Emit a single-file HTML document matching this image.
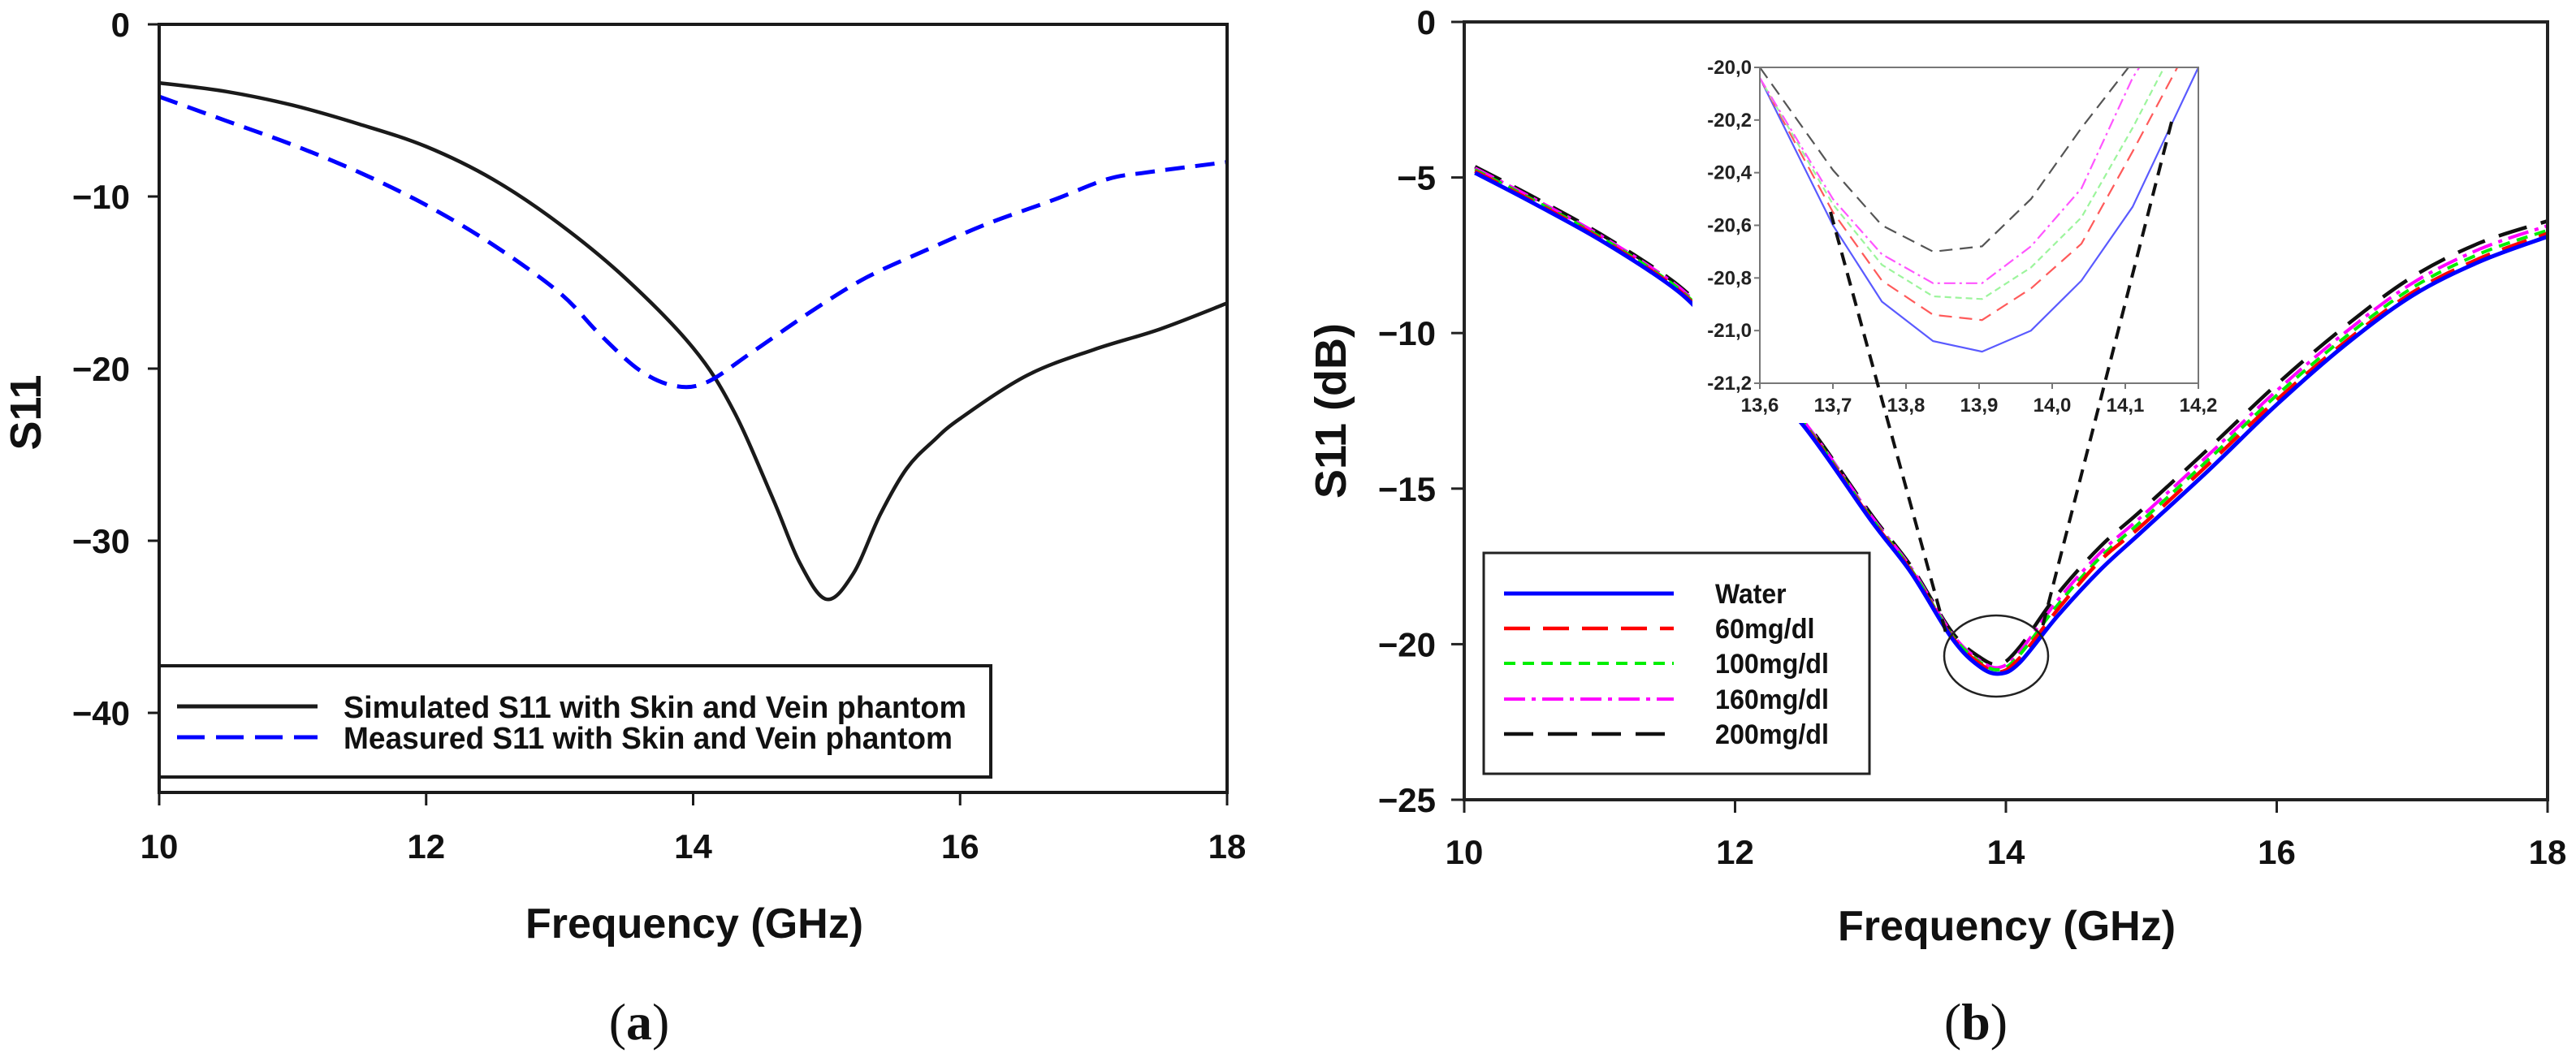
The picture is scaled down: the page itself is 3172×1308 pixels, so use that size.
<!DOCTYPE html>
<html><head><meta charset="utf-8"><style>
html,body{margin:0;padding:0;background:#fff}
svg{display:block}
text{font-family:"Liberation Sans",Arial,sans-serif}
</style></head><body>
<svg id="fig" width="3172" height="1308" viewBox="0 0 3172 1308" xmlns="http://www.w3.org/2000/svg">
<rect x="0" y="0" width="3172" height="1308" fill="#fff"/>
<g id="pa"></g>
<g id="pb"></g>
</svg>
<script>
// ---------- Panel (a) data ----------
const A_XTICKS = [10, 12, 14, 16, 18];
const A_YTICKS = [0, -10, -20, -30, -40];
const A_SIM_F = [10, 10.5, 11, 11.5, 12, 12.5, 13, 13.5, 14, 14.3, 14.6, 14.8, 15, 15.2, 15.4, 15.6, 15.8, 16, 16.5, 17, 17.5, 18];
const A_SIM_V = [-3.4, -3.9, -4.7, -5.8, -7.1, -9.0, -11.6, -14.8, -18.8, -22.4, -27.6, -31.3, -33.4, -31.9, -28.5, -25.8, -24.2, -22.9, -20.4, -18.9, -17.7, -16.2];
const A_MEA_F = [10, 10.5, 11, 11.5, 12, 12.5, 13, 13.3, 13.6, 13.86, 14.1, 14.45, 14.9, 15.3, 15.75, 16.2, 16.7, 17.1, 17.4, 18];
const A_MEA_V = [-4.2, -5.6, -7.0, -8.6, -10.5, -12.8, -15.6, -18.0, -20.1, -21.0, -20.8, -19.0, -16.6, -14.7, -13.1, -11.6, -10.2, -9.0, -8.6, -8.0];

// ---------- Panel (b) data ----------
const B_XTICKS = [10, 12, 14, 16, 18];
const B_YTICKS = [0, -5, -10, -15, -20, -25];
const B_F = [10.08, 10.5, 11, 11.5, 11.75, 12, 12.5, 13, 13.3, 13.6, 13.8, 13.95, 14.1, 14.38, 14.7, 15, 15.5, 16, 16.5, 17, 17.5, 18];
const B_WATER = [-4.85, -5.8, -7.0, -8.4, -9.35, -10.6, -12.95, -16.0, -17.7, -19.8, -20.7, -20.95, -20.6, -19.1, -17.6, -16.4, -14.4, -12.3, -10.4, -8.8, -7.7, -6.9];
const B_60 = [-4.8, -5.75, -6.95, -8.35, -9.3, -10.55, -12.9, -15.95, -17.65, -19.75, -20.6, -20.9, -20.45, -18.9, -17.3, -16.2, -14.2, -12.15, -10.3, -8.7, -7.6, -6.8];
const B_100 = [-4.75, -5.7, -6.9, -8.3, -9.25, -10.5, -12.85, -15.9, -17.6, -19.7, -20.55, -20.82, -20.35, -18.75, -17.2, -16.05, -14.05, -12.0, -10.15, -8.55, -7.45, -6.7];
const B_160 = [-4.7, -5.65, -6.85, -8.25, -9.2, -10.45, -12.8, -15.85, -17.55, -19.65, -20.5, -20.75, -20.25, -18.6, -17.05, -15.9, -13.9, -11.85, -10.0, -8.4, -7.3, -6.55];
const B_200 = [-4.65, -5.6, -6.8, -8.2, -9.15, -10.4, -12.75, -15.8, -17.5, -19.6, -20.4, -20.65, -20.1, -18.4, -16.85, -15.7, -13.7, -11.65, -9.8, -8.2, -7.1, -6.4];

// ---------- Inset data ----------
const IN_XTICKS = [13.6, 13.7, 13.8, 13.9, 14.0, 14.1, 14.2];
const IN_XLABELS = ["13,6", "13,7", "13,8", "13,9", "14,0", "14,1", "14,2"];
const IN_YTICKS = [-20.0, -20.2, -20.4, -20.6, -20.8, -21.0, -21.2];
const IN_YLABELS = ["-20,0", "-20,2", "-20,4", "-20,6", "-20,8", "-21,0", "-21,2"];
const IN_F = [13.6, 13.7, 13.767, 13.837, 13.904, 13.971, 14.04, 14.11, 14.2];
const IN_WATER = [-20.04, -20.6, -20.89, -21.04, -21.08, -21.0, -20.81, -20.53, -20.0];
const IN_60 = [-20.04, -20.55, -20.81, -20.94, -20.96, -20.84, -20.67, -20.32, -19.85];
const IN_100 = [-20.04, -20.52, -20.75, -20.87, -20.88, -20.76, -20.57, -20.23, -19.75];
const IN_160 = [-20.04, -20.5, -20.71, -20.82, -20.82, -20.68, -20.46, -20.04, -19.65];
const IN_200 = [-20.0, -20.39, -20.6, -20.7, -20.68, -20.5, -20.23, -19.98, -19.6];

const NS = "http://www.w3.org/2000/svg";
function mk(parent, tag, attrs) {
  const e = document.createElementNS(NS, tag);
  for (const k in attrs) e.setAttribute(k, attrs[k]);
  parent.appendChild(e);
  return e;
}
function smooth(pts) {
  let d = "M" + pts[0][0].toFixed(1) + "," + pts[0][1].toFixed(1);
  for (let i = 0; i < pts.length - 1; i++) {
    const p0 = pts[Math.max(0, i - 1)], p1 = pts[i], p2 = pts[i + 1], p3 = pts[Math.min(pts.length - 1, i + 2)];
    const c1x = p1[0] + (p2[0] - p0[0]) / 6, c1y = p1[1] + (p2[1] - p0[1]) / 6;
    const c2x = p2[0] - (p3[0] - p1[0]) / 6, c2y = p2[1] - (p3[1] - p1[1]) / 6;
    d += " C" + c1x.toFixed(1) + "," + c1y.toFixed(1) + " " + c2x.toFixed(1) + "," + c2y.toFixed(1) + " " + p2[0].toFixed(1) + "," + p2[1].toFixed(1);
  }
  return d;
}
function poly(pts) { return "M" + pts.map(p => p[0].toFixed(1) + "," + p[1].toFixed(1)).join(" L"); }

// ================= Panel A =================
const pa = document.getElementById("pa");
const AX0 = 196, AX1 = 1511, AY0 = 30, AYB = 976;
const ax = f => AX0 + (f - 10) * (AX1 - AX0) / 8;
const ay = v => AY0 - v * 21.2;

const aSim = mk(pa, "path", {d: smooth(A_SIM_F.map((f, i) => [ax(f), ay(A_SIM_V[i])])), fill: "none", stroke: "#1a1a1a", "stroke-width": 4.5});


const aMea = mk(pa, "path", {d: smooth(A_MEA_F.map((f, i) => [ax(f), ay(A_MEA_V[i])])), fill: "none", stroke: "#0000ff", "stroke-width": 5, "stroke-dasharray": "24 13"});



// legend a
const lgA = mk(pa, "g", {});


mk(lgA, "rect", {x: AX0, y: 820, width: 1024, height: 137, fill: "#fff", stroke: "#1a1a1a", "stroke-width": 4});
mk(lgA, "line", {x1: 218, y1: 870, x2: 391, y2: 870, stroke: "#1a1a1a", "stroke-width": 5});
mk(lgA, "line", {x1: 218, y1: 908, x2: 391, y2: 908, stroke: "#0000ff", "stroke-width": 5, "stroke-dasharray": "34 14"});
const lt1 = mk(lgA, "text", {x: 423, y: 884, "font-size": 38, "font-weight": "bold", textLength: 767, lengthAdjust: "spacingAndGlyphs", fill: "#111"});
lt1.textContent = "Simulated S11 with Skin and Vein phantom";


const lt2 = mk(lgA, "text", {x: 423, y: 922, "font-size": 38, "font-weight": "bold", textLength: 750, lengthAdjust: "spacingAndGlyphs", fill: "#111"});
lt2.textContent = "Measured S11 with Skin and Vein phantom";



// frame a
mk(pa, "rect", {x: AX0, y: AY0, width: AX1 - AX0, height: AYB - AY0, fill: "none", stroke: "#1a1a1a", "stroke-width": 4});
A_XTICKS.forEach(t => {
  mk(pa, "line", {x1: ax(t), y1: AYB, x2: ax(t), y2: AYB + 16, stroke: "#1a1a1a", "stroke-width": 3});
  const tx = mk(pa, "text", {x: ax(t), y: 1057, "font-size": 42, "font-weight": "bold", "text-anchor": "middle", fill: "#111"});
  tx.textContent = t;
  
  
});
A_YTICKS.forEach(t => {
  mk(pa, "line", {x1: AX0 - 14, y1: ay(t), x2: AX0, y2: ay(t), stroke: "#1a1a1a", "stroke-width": 3});
  const ty = mk(pa, "text", {x: 160, y: ay(t) + 15, "font-size": 42, "font-weight": "bold", "text-anchor": "end", fill: "#111"});
  ty.textContent = t === 0 ? "0" : "\u2212" + Math.abs(t);
  
  
});
const axt = mk(pa, "text", {x: 855, y: 1155, "font-size": 52, "font-weight": "bold", "text-anchor": "middle", fill: "#111"});
axt.textContent = "Frequency (GHz)";


const ayt = mk(pa, "text", {x: 0, y: 0, "font-size": 54, "font-weight": "bold", "text-anchor": "middle", fill: "#111", transform: "translate(50,508) rotate(-90)"});
ayt.textContent = "S11";


const capA = mk(pa, "text", {x: 787, y: 1280, "font-size": 64, "text-anchor": "middle", fill: "#111", style: "font-family:'Liberation Serif',serif"});
capA.innerHTML = "(<tspan font-weight='bold'>a</tspan>)";



// ================= Panel B =================
const pb = document.getElementById("pb");
const BX0 = 1803, BX1 = 3137, BY0 = 27, BYB = 985;
const bx = f => BX0 + (f - 10) * (BX1 - BX0) / 8;
const by = v => BY0 - v * 38.32;
const SER = [
  {v: B_WATER, c: "#0000ff", w: 5, d: "none", n: "water-line"},
  {v: B_60, c: "#ff0000", w: 4.5, d: "32 16", n: "60mgdl-line"},
  {v: B_100, c: "#00ee00", w: 4, d: "14 9", n: "100mgdl-line"},
  {v: B_160, c: "#ff00ff", w: 4, d: "26 8 5 8", n: "160mgdl-line"},
  {v: B_200, c: "#111", w: 4.5, d: "36 18", n: "200mgdl-line"}
];
for (let s = SER.length - 1; s >= 0; s--) {
  const S = SER[s];
  const p = mk(pb, "path", {d: smooth(B_F.map((f, i) => [bx(f), by(S.v[i])])), fill: "none", stroke: S.c, "stroke-width": S.w, "stroke-dasharray": S.d});
  
  
}
// zoom circle
const circ = mk(pb, "ellipse", {cx: 2458, cy: 808, rx: 64, ry: 50, fill: "none", stroke: "#222", "stroke-width": 2.5});



// inset background
mk(pb, "rect", {x: 2084, y: 45, width: 660, height: 476, fill: "#fff"});
const IX0 = 2167, IX1 = 2707, IY0 = 83, IY1 = 472;
const ix = f => IX0 + (f - 13.6) * (IX1 - IX0) / 0.6;
const iy = v => IY0 + (-20 - v) * (IY1 - IY0) / 1.2;
mk(pb, "clipPath", {id: "inclip"});
mk(document.getElementById("inclip"), "rect", {x: IX0, y: IY0, width: IX1 - IX0, height: IY1 - IY0});
const INS = [
  {v: IN_WATER, c: "#5a5aff", d: "none", n: "inset-water-line"},
  {v: IN_60, c: "#ff5a5a", d: "16 9", n: "inset-60mgdl-line"},
  {v: IN_100, c: "#9cf59c", d: "8 5", n: "inset-100mgdl-line"},
  {v: IN_160, c: "#ff55ff", d: "14 5 3 5", n: "inset-160mgdl-line"},
  {v: IN_200, c: "#555", d: "16 9", n: "inset-200mgdl-line"}
];
const ing = mk(pb, "g", {"clip-path": "url(#inclip)"});


INS.forEach(S => {
  const p = mk(ing, "path", {d: poly(IN_F.map((f, i) => [ix(f), iy(S.v[i])])), fill: "none", stroke: S.c, "stroke-width": 2.2, "stroke-dasharray": S.d});
  
  
});
mk(pb, "rect", {x: IX0, y: IY0, width: IX1 - IX0, height: IY1 - IY0, fill: "none", stroke: "#777", "stroke-width": 2});
IN_XTICKS.forEach((t, i) => {
  mk(pb, "line", {x1: ix(t), y1: IY1, x2: ix(t), y2: IY1 + 7, stroke: "#777", "stroke-width": 2});
  const tx = mk(pb, "text", {x: ix(t), y: 507, "font-size": 24, "font-weight": "bold", "text-anchor": "middle", fill: "#222"});
  tx.textContent = IN_XLABELS[i];
  
  
});
IN_YTICKS.forEach((t, i) => {
  mk(pb, "line", {x1: IX0 - 7, y1: iy(t), x2: IX0, y2: iy(t), stroke: "#777", "stroke-width": 2});
  const ty = mk(pb, "text", {x: IX0 - 10, y: iy(t) + 8, "font-size": 24, "font-weight": "bold", "text-anchor": "end", fill: "#222"});
  ty.textContent = IN_YLABELS[i];
  
  
});
// connecting dashed lines
const cl1 = mk(pb, "line", {x1: 2254, y1: 261, x2: 2397, y2: 783, stroke: "#111", "stroke-width": 4, "stroke-dasharray": "16 10"});


const cl2 = mk(pb, "line", {x1: 2674, y1: 150, x2: 2513, y2: 780, stroke: "#111", "stroke-width": 4, "stroke-dasharray": "16 10"});



// legend b
const lgB = mk(pb, "g", {});


mk(lgB, "rect", {x: 1827, y: 681, width: 475, height: 272, fill: "#fff", stroke: "#222", "stroke-width": 3});
const LEG_B = ["Water", "60mg/dl", "100mg/dl", "160mg/dl", "200mg/dl"];
const LEG_Y = [731, 774, 817, 861, 904];
LEG_B.forEach((lab, i) => {
  const S = SER[i];
  mk(lgB, "line", {x1: 1852, y1: LEG_Y[i], x2: 2061, y2: LEG_Y[i], stroke: S.c, "stroke-width": S.w, "stroke-dasharray": S.d});
  const t = mk(lgB, "text", {x: 2112, y: LEG_Y[i] + 12, "font-size": 34, "font-weight": "bold", fill: "#111", textLength: lab.length * 17.5, lengthAdjust: "spacingAndGlyphs"});
  t.textContent = lab;
  
  
});

// frame b
mk(pb, "rect", {x: BX0, y: BY0, width: BX1 - BX0, height: BYB - BY0, fill: "none", stroke: "#222", "stroke-width": 4});
B_XTICKS.forEach(t => {
  mk(pb, "line", {x1: bx(t), y1: BYB, x2: bx(t), y2: BYB + 16, stroke: "#222", "stroke-width": 3});
  const tx = mk(pb, "text", {x: bx(t), y: 1064, "font-size": 42, "font-weight": "bold", "text-anchor": "middle", fill: "#111"});
  tx.textContent = t;
  
  
});
B_YTICKS.forEach(t => {
  mk(pb, "line", {x1: BX0 - 16, y1: by(t), x2: BX0, y2: by(t), stroke: "#222", "stroke-width": 3});
  const ty = mk(pb, "text", {x: 1768, y: by(t) + 15, "font-size": 42, "font-weight": "bold", "text-anchor": "end", fill: "#111"});
  ty.textContent = t === 0 ? "0" : "\u2212" + Math.abs(t);
  
  
});
const bxt = mk(pb, "text", {x: 2471, y: 1158, "font-size": 52, "font-weight": "bold", "text-anchor": "middle", fill: "#111"});
bxt.textContent = "Frequency (GHz)";


const byt = mk(pb, "text", {x: 0, y: 0, "font-size": 54, "font-weight": "bold", "text-anchor": "middle", fill: "#111", transform: "translate(1657,506) rotate(-90)"});
byt.textContent = "S11 (dB)";


const capB = mk(pb, "text", {x: 2433, y: 1280, "font-size": 64, "text-anchor": "middle", fill: "#111", style: "font-family:'Liberation Serif',serif"});
capB.innerHTML = "(<tspan font-weight='bold'>b</tspan>)";


</script>
</body></html>
